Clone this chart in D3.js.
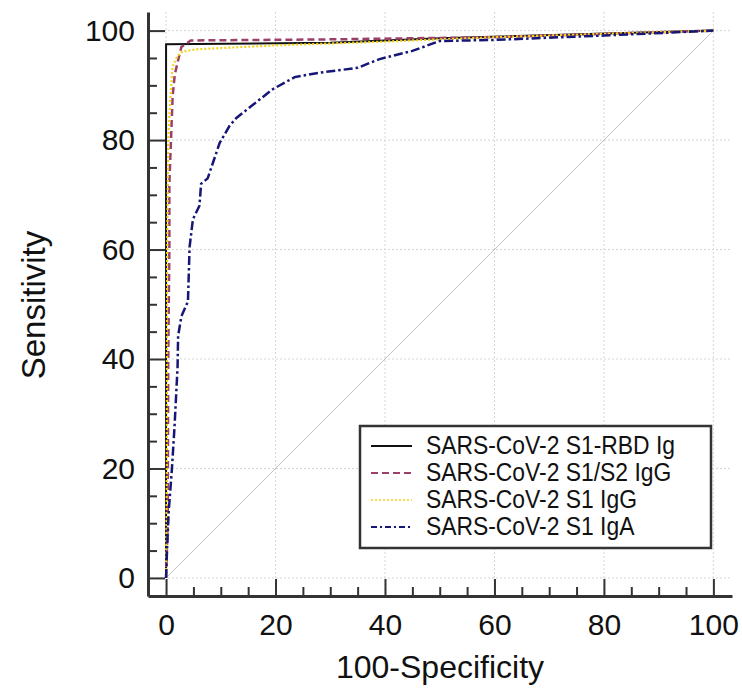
<!DOCTYPE html>
<html>
<head>
<meta charset="utf-8">
<script src="https://cdn.jsdelivr.net/npm/d3@7"></script>
<style>
  html, body { margin: 0; padding: 0; background: #fff; }
  svg { display: block; font-family: 'Liberation Sans', Arial, sans-serif; }
</style>
</head>
<body>
<div id="chart"></div>
<script>
// ROC curves, points are [100-Specificity, Sensitivity]
const rbdIg = [[0, 0], [0, 97.5], [30, 97.8], [50, 98.6], [100, 100]];
const s1s2IgG = [[0, 0], [0.3, 10], [0.4, 40], [0.6, 60], [0.6, 72], [0.9, 80], [1.2, 88],
  [1.6, 92], [2.3, 95], [2.8, 97], [4.5, 98.2], [30, 98.4], [60, 98.8], [100, 100]];
const s1IgG = [[0, 0], [0.15, 20], [0.2, 60], [0.4, 80], [0.8, 88], [1.2, 93.5], [2.1, 95.4],
  [3, 96.2], [5.8, 96.6], [20, 97.3], [40, 98], [60, 98.8], [100, 100]];
const s1IgA = [[0, 0], [0.2, 5.7], [0.5, 12.4], [1.06, 19.8], [1.55, 27.7], [2.1, 38.5],
  [2.2, 44.2], [2.8, 47.8], [4.0, 50.5], [4.3, 60.5], [4.9, 65.5], [6.1, 68], [6.4, 72],
  [7.6, 73], [9.8, 79.5], [11.6, 82.6], [12.8, 84], [15.3, 86], [19.5, 89.3], [23.5, 91.5],
  [28, 92.3], [35, 93.2], [39, 94.8], [45, 96.3], [50, 98.1], [60, 98.3], [80, 99.1], [100, 100]];

const seriesNames = ['SARS-CoV-2 S1-RBD Ig', 'SARS-CoV-2 S1/S2 IgG', 'SARS-CoV-2 S1 IgG', 'SARS-CoV-2 S1 IgA'];
const majorTicks = [0, 20, 40, 60, 80, 100];
const minorTicks = [5, 10, 15, 25, 30, 35, 45, 50, 55, 65, 70, 75, 85, 90, 95];

const width = 742;
const height = 691;

const series = [
  { name: seriesNames[0], data: rbdIg, color: '#111111', width: 2, dash: null },
  { name: seriesNames[1], data: s1s2IgG, color: '#9b4068', width: 2.5, dash: '7,4' },
  { name: seriesNames[2], data: s1IgG, color: '#f2d21c', width: 2.2, dash: '2,2' },
  { name: seriesNames[3], data: s1IgA, color: '#161678', width: 2.5, dash: '9,3,2.5,3' },
];

const svg = d3.select('#chart')
  .append('svg')
  .attr('width', width)
  .attr('height', height);

const x = d3.scaleLinear().domain([-3.3, 103.4]).range([148, 732]);
const y = d3.scaleLinear().domain([-3.3, 103.4]).range([596, 12]);

// grid
const grid = svg.append('g');
grid.selectAll('line.gx')
  .data(majorTicks)
  .enter()
  .append('line')
  .attr('x1', (d) => x(d))
  .attr('x2', (d) => x(d))
  .attr('y1', y.range()[1])
  .attr('y2', y.range()[0])
  .attr('stroke', '#d6d6d6')
  .attr('stroke-width', 1)
  .attr('stroke-dasharray', '2,2');
grid.selectAll('line.gy')
  .data(majorTicks)
  .enter()
  .append('line')
  .attr('x1', x.range()[0])
  .attr('x2', x.range()[1])
  .attr('y1', (d) => y(d))
  .attr('y2', (d) => y(d))
  .attr('stroke', '#d6d6d6')
  .attr('stroke-width', 1)
  .attr('stroke-dasharray', '2,2');

// diagonal reference line
svg.append('line')
  .attr('x1', x(0))
  .attr('y1', y(0))
  .attr('x2', x(100))
  .attr('y2', y(100))
  .attr('stroke', '#c9c0be')
  .attr('stroke-width', 1);

// curves
const line = d3.line()
  .x((d) => x(d[0]))
  .y((d) => y(d[1]));

svg.selectAll('path.roc')
  .data(series)
  .enter()
  .append('path')
  .attr('class', 'roc')
  .attr('fill', 'none')
  .attr('stroke', (d) => d.color)
  .attr('stroke-width', (d) => d.width)
  .attr('stroke-dasharray', (d) => d.dash)
  .attr('d', (d) => line(d.data));

// axes
const xAxis = d3.axisBottom(x).tickValues(majorTicks).tickSizeInner(-17).tickSizeOuter(0).tickPadding(18);
const yAxis = d3.axisLeft(y).tickValues(majorTicks).tickSizeInner(-17).tickSizeOuter(0).tickPadding(13);

svg.append('g')
  .attr('transform', `translate(0, ${y.range()[0]})`)
  .call(xAxis);
svg.append('g')
  .attr('transform', `translate(${x.range()[0]}, 0)`)
  .call(yAxis);

svg.append('g')
  .attr('transform', `translate(0, ${y.range()[0]})`)
  .call(d3.axisBottom(x).tickValues(minorTicks).tickSizeInner(-9).tickSizeOuter(0).tickFormat(''))
  .call((g) => g.select('.domain').remove());
svg.append('g')
  .attr('transform', `translate(${x.range()[0]}, 0)`)
  .call(d3.axisLeft(y).tickValues(minorTicks).tickSizeInner(-9).tickSizeOuter(0).tickFormat(''))
  .call((g) => g.select('.domain').remove());

svg.selectAll('.domain')
  .attr('stroke', '#333')
  .attr('stroke-width', 3);
svg.selectAll('.tick line')
  .attr('stroke', '#333')
  .attr('stroke-width', 2);
svg.selectAll('.tick text')
  .attr('fill', '#111')
  .attr('font-family', "'Liberation Sans', Arial, sans-serif")
  .attr('font-size', 30);

// axis titles
svg.append('text')
  .attr('x', 440)
  .attr('y', 678)
  .attr('text-anchor', 'middle')
  .attr('font-size', 32)
  .attr('fill', '#111')
  .text('100-Specificity');

svg.append('text')
  .attr('transform', 'translate(45, 305) rotate(-90)')
  .attr('text-anchor', 'middle')
  .attr('font-size', 33)
  .attr('fill', '#111')
  .text('Sensitivity');

// legend
const legend = svg.append('g').attr('transform', 'translate(360, 426)');
legend.append('rect')
  .attr('width', 351)
  .attr('height', 122)
  .attr('fill', '#fff')
  .attr('stroke', '#333')
  .attr('stroke-width', 2.5);

const items = legend.selectAll('g.item')
  .data(series)
  .enter()
  .append('g')
  .attr('transform', (d, i) => `translate(0, ${28 + i * 27})`);

items.append('line')
  .attr('x1', 11)
  .attr('x2', 52)
  .attr('y1', -8)
  .attr('y2', -8)
  .attr('stroke', (d) => d.color)
  .attr('stroke-width', (d) => (d.dash === '2,2' ? 1.5 : 2.2))
  .attr('stroke-dasharray', (d) => (d.dash === '9,3,2.5,3' ? '6,3,2,3' : d.dash));

items.append('text')
  .attr('transform', 'translate(66, 0) scale(0.88, 1)')
  .attr('font-size', 26)
  .attr('fill', '#111')
  .text((d) => d.name);
</script>
</body>
</html>
